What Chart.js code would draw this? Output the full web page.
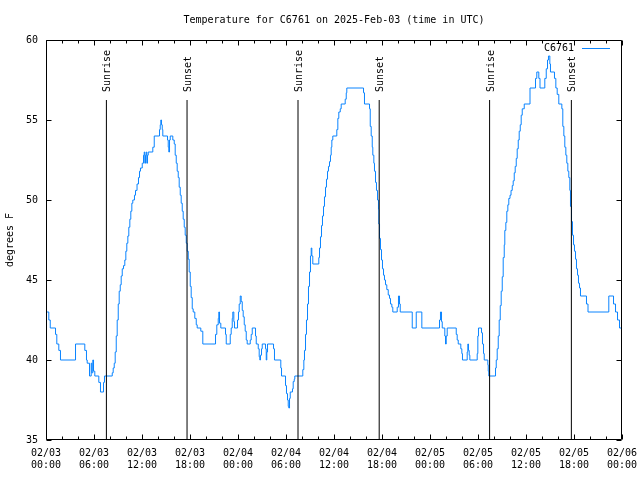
<!DOCTYPE html>
<html>
<head>
<meta charset="utf-8">
<script src="https://cdn.jsdelivr.net/npm/chart.js@4.4.1/dist/chart.umd.min.js"></script>
<style>
html,body{margin:0;padding:0;background:#fff;}
#wrap{width:640px;height:480px;}
</style>
</head>
<body>
<div id="wrap"><canvas id="c" width="640" height="480"></canvas></div>
<script>
// ---- data (hours since 2025-02-03 00:00 UTC, temperature in °F) ----
const hours = [
0,0.35,0.53,1.19,1.35,1.6,1.81,3.69,4.85,5.06,5.15,5.44,5.65,5.73,5.85,5.94,6.1,6.6,6.81,7.19,7.31,
8.28,8.4,8.53,8.65,8.78,8.9,9.03,9.15,9.28,9.4,9.53,9.69,9.85,9.98,10.1,10.23,10.35,10.48,10.6,10.73,10.85,
11.06,11.19,11.38,11.56,11.69,11.81,12.03,12.19,12.28,12.35,12.44,12.53,12.6,12.69,12.78,13.35,13.53,
14.19,14.28,14.35,14.44,14.53,14.6,15.19,15.28,15.35,15.44,15.53,15.85,16.03,16.15,16.28,16.4,16.53,
16.65,16.78,16.9,17.03,17.15,17.28,17.4,17.53,17.65,17.78,17.9,18.03,18.15,18.28,18.4,18.6,18.78,18.9,
19.35,19.6,21.19,21.35,21.53,21.6,21.69,21.85,22.44,22.53,23.03,23.15,23.28,23.35,23.48,23.56,23.94,
24.06,24.15,24.28,24.4,24.53,24.65,24.78,24.9,25.03,25.15,25.53,25.65,25.78,26.19,26.28,26.53,26.65,
26.73,26.81,26.94,27.03,27.44,27.53,27.6,27.69,28.44,28.56,29.35,29.44,29.94,30.06,30.19,30.28,30.35,
30.44,30.53,30.81,30.9,31.03,31.1,32.1,32.23,32.31,32.44,32.56,32.69,32.81,32.94,33.06,33.15,33.23,
33.35,34.1,34.19,34.31,34.44,34.56,34.69,34.81,34.94,35.06,35.19,35.31,35.44,35.56,35.65,35.73,35.85,
36.35,36.48,36.6,36.78,36.9,37.4,37.53,37.6,39.69,39.81,40.44,40.53,40.65,40.78,40.85,40.98,41.06,
41.19,41.31,41.44,41.56,41.6,41.69,41.81,41.94,42.06,42.19,42.31,42.44,42.6,42.78,42.94,43.06,43.23,
43.35,43.9,44.06,44.19,44.28,45.78,46.28,46.98,49.19,49.31,49.44,49.53,49.85,49.94,50.03,50.15,51.28,
51.4,51.53,51.85,51.98,52.06,52.65,52.73,52.81,52.9,52.98,53.9,53.98,54.06,54.44,54.56,54.69,54.78,
55.23,55.28,55.35,56.19,56.28,56.4,56.53,56.65,56.78,56.9,57.03,57.15,57.28,57.35,57.48,57.6,57.73,
57.85,58.0,58.13,58.28,58.4,58.53,58.65,58.78,58.9,59.03,59.15,59.28,59.4,59.53,59.78,60.5,61.19,
61.35,61.6,61.75,62.35,62.53,62.69,62.81,62.98,63.06,63.56,63.73,63.9,64.1,64.48,64.6,64.73,64.85,
64.98,65.1,65.23,65.35,65.48,65.56,65.69,65.81,65.94,66.06,66.19,66.31,66.44,66.56,66.69,66.81,
67.56,67.75,70.35,70.94,71.19,71.44,71.69,72
];
const tempsF = [
43.0,42.5,42.0,41.6,41.0,40.6,40.0,41.0,40.6,40.0,39.8,39.0,39.8,39.2,40.0,39.3,39.0,38.6,38.0,38.6,39.0,
39.2,39.5,39.8,40.5,41.5,42.5,43.5,44.3,44.7,45.25,45.7,45.9,46.25,46.8,47.3,47.75,48.3,48.8,49.3,49.8,50.0,
50.3,50.6,51.0,51.4,51.8,52.0,52.3,52.8,53.0,52.3,52.8,53.0,52.3,52.8,53.0,53.3,54.0,
54.4,54.7,55.0,54.7,54.4,54.0,53.75,53.3,53.0,53.75,54.0,53.75,53.5,52.8,52.3,51.8,51.4,
50.8,50.3,49.8,49.3,48.8,48.3,47.8,47.3,46.8,46.3,45.5,44.6,43.9,43.2,43.0,42.6,42.2,42.0,
41.8,41.0,41.6,42.2,42.6,43.0,42.3,42.0,41.6,41.0,41.6,42.0,42.6,43.0,42.4,42.0,42.5,
43.0,43.5,44.0,43.65,43.1,42.7,42.2,41.8,41.25,41.0,41.25,41.6,42.0,41.5,41.0,40.7,40.2,
40.0,40.3,40.7,41.0,40.7,40.0,40.5,41.0,40.7,40.0,39.5,39.0,38.4,37.9,37.5,37.1,37.0,
37.6,38.0,38.2,38.65,38.8,39.0,39.4,40.0,40.6,41.6,42.5,43.5,44.6,45.5,46.5,47.0,46.5,
46.0,46.4,47.0,47.7,48.4,49.0,49.6,50.2,50.8,51.3,51.8,52.1,52.4,52.8,53.3,53.75,54.0,
54.4,55.1,55.5,55.7,56.0,56.3,56.7,57.0,56.7,56.0,55.7,54.6,54.0,53.3,52.8,52.3,51.8,
51.1,50.6,50.0,49.4,48.5,47.6,46.9,46.25,45.7,45.3,45.0,44.7,44.4,44.06,43.85,43.5,43.3,
43.0,43.3,44.0,43.5,43.0,42.0,43.0,42.0,42.5,43.0,42.4,42.0,41.5,41.0,41.5,42.0,41.6,
41.25,41.0,40.7,40.4,40.0,40.5,41.0,40.6,40.3,40.0,40.4,41.5,42.0,41.7,41.0,40.4,40.0,
39.7,39.3,39.0,39.5,40.0,40.7,41.5,42.5,43.4,44.3,45.2,46.4,47.2,48.1,48.6,49.3,49.7,
50.1,50.3,50.6,50.9,51.2,51.7,52.1,52.6,53.2,53.75,54.3,54.7,55.3,55.7,56.0,57.0,57.6,
58.0,57.6,57.0,57.6,58.2,58.75,59.0,58.5,58.0,57.6,57.0,56.6,56.0,55.7,54.6,54.0,53.3,
52.8,52.3,51.8,51.4,50.6,49.6,48.65,47.8,47.2,46.8,46.3,45.7,45.3,44.8,44.5,44.0,
43.5,43.0,44.0,43.5,43.0,42.5,42.0,42.0
];
const sunriseHours = [7.55, 31.5, 55.45];
const sunsetHours  = [17.63, 41.65, 65.67];
const xTickDates = ['02/03','02/03','02/03','02/03','02/04','02/04','02/04','02/04','02/05','02/05','02/05','02/05','02/06'];
const xTickTimes = ['00:00','06:00','12:00','18:00','00:00','06:00','12:00','18:00','00:00','06:00','12:00','18:00','00:00'];
const yTickValues = [35, 40, 45, 50, 55, 60];
const seriesName = 'C6761';
const titleText = 'Temperature for C6761 on 2025-Feb-03 (time in UTC)';

// ---- styling ----
const FONT = "'DejaVu Sans Mono', monospace";
const BLUE = '#0a84ff';
const Y_MIN = yTickValues[0], Y_MAX = yTickValues[yTickValues.length - 1];
const SUN_LINE_TOP = Y_MIN + 0.85 * (Y_MAX - Y_MIN);

Chart.defaults.font.family = FONT;
Chart.defaults.font.size = 10;
Chart.defaults.color = '#000';

const tempData = hours.map((h, i) => ({x: h, y: tempsF[i]}));
const sunDatasets = [];
sunriseHours.forEach(h => sunDatasets.push({kind: 'Sunrise', h}));
sunsetHours.forEach(h => sunDatasets.push({kind: 'Sunset', h}));

const datasets = [
  {
    label: seriesName,
    data: tempData,
    borderColor: BLUE,
    borderWidth: 1,
    pointRadius: 0,
    stepped: true,
    fill: false,
    order: 1
  },
  ...sunDatasets.map(s => ({
    label: s.kind,
    data: [{x: s.h, y: Y_MIN}, {x: s.h, y: SUN_LINE_TOP}],
    borderColor: '#000',
    borderWidth: 1,
    pointRadius: 0,
    order: 0,
    sunLabel: s.kind
  }))
];

const framePlugin = {
  id: 'frame',
  afterDatasetsDraw(chart) {
    const ctx = chart.ctx;
    const ca = chart.chartArea;
    const xs = chart.scales.x, ys = chart.scales.y;
    const L = Math.round(ca.left) + 0.5, R = Math.round(ca.right) - 0.5;
    const T = Math.round(ca.top) + 0.5, B = Math.round(ca.bottom) - 0.5;
    ctx.save();
    ctx.strokeStyle = '#000';
    ctx.lineWidth = 1;
    ctx.beginPath();
    ctx.rect(L, T, R - L, B - T);
    xs.ticks.forEach(t => {
      const px = Math.round(xs.getPixelForValue(t.value)) + 0.5;
      const len = (t.value % 6 === 0) ? 5 : 3;
      ctx.moveTo(px, B); ctx.lineTo(px, B - len);
      ctx.moveTo(px, T); ctx.lineTo(px, T + len);
    });
    ys.ticks.forEach(t => {
      const py = Math.round(ys.getPixelForValue(t.value)) + 0.5;
      ctx.moveTo(L, py); ctx.lineTo(L + 5, py);
      ctx.moveTo(R, py); ctx.lineTo(R - 5, py);
    });
    ctx.stroke();

    ctx.fillStyle = '#000';
    ctx.font = '10px ' + FONT;
    ctx.textAlign = 'left';
    ctx.textBaseline = 'alphabetic';
    chart.data.datasets.forEach((ds, i) => {
      if (!ds.sunLabel) return;
      const meta = chart.getDatasetMeta(i);
      const top = meta.data[1];
      ctx.save();
      ctx.translate(top.x + 4, top.y - 8);
      ctx.rotate(-Math.PI / 2);
      ctx.fillText(ds.sunLabel, 0, 0);
      ctx.restore();
    });

    const ly = ca.top + 8.5;
    ctx.textAlign = 'right';
    ctx.textBaseline = 'middle';
    ctx.fillText(seriesName, ca.right - 48, ly);
    ctx.strokeStyle = BLUE;
    ctx.beginPath();
    ctx.moveTo(ca.right - 40, ly);
    ctx.lineTo(ca.right - 12, ly);
    ctx.stroke();
    ctx.restore();
  }
};

new Chart(document.getElementById('c'), {
  type: 'line',
  data: {datasets},
  options: {
    responsive: false,
    animation: false,
    devicePixelRatio: 1,
    layout: {padding: {left: 0, right: 18, top: 0, bottom: 0}},
    plugins: {
      legend: {display: false},
      tooltip: {enabled: false},
      title: {
        display: true,
        fullSize: false,
        text: titleText,
        font: {family: FONT, size: 10, weight: 'normal'},
        color: '#000',
        padding: {top: 14, bottom: 14}
      }
    },
    scales: {
      x: {
        type: 'linear',
        min: 0, max: 72,
        grid: {display: false, drawTicks: false},
        border: {display: false},
        afterFit(s) { s.height = 40; s.paddingLeft = 0; s.paddingRight = 0; },
        ticks: {
          stepSize: 2,
          autoSkip: false,
          maxRotation: 0,
          minRotation: 0,
          padding: 7,
          color: '#000',
          font: {family: FONT, size: 10},
          callback(v) {
            if (v % 6 !== 0) return '';
            const i = Math.round(v / 6);
            return [xTickDates[i], xTickTimes[i]];
          }
        }
      },
      y: {
        min: Y_MIN, max: Y_MAX,
        grid: {display: false, drawTicks: false},
        border: {display: false},
        afterFit(s) { s.width = 46; },
        title: {display: true, text: 'degrees F', font: {family: FONT, size: 10}, color: '#000', padding: {top: 4, bottom: 4}},
        ticks: {
          stepSize: 5,
          padding: 8,
          color: '#000',
          font: {family: FONT, size: 10}
        }
      }
    }
  },
  plugins: [framePlugin]
});
</script>
</body>
</html>
